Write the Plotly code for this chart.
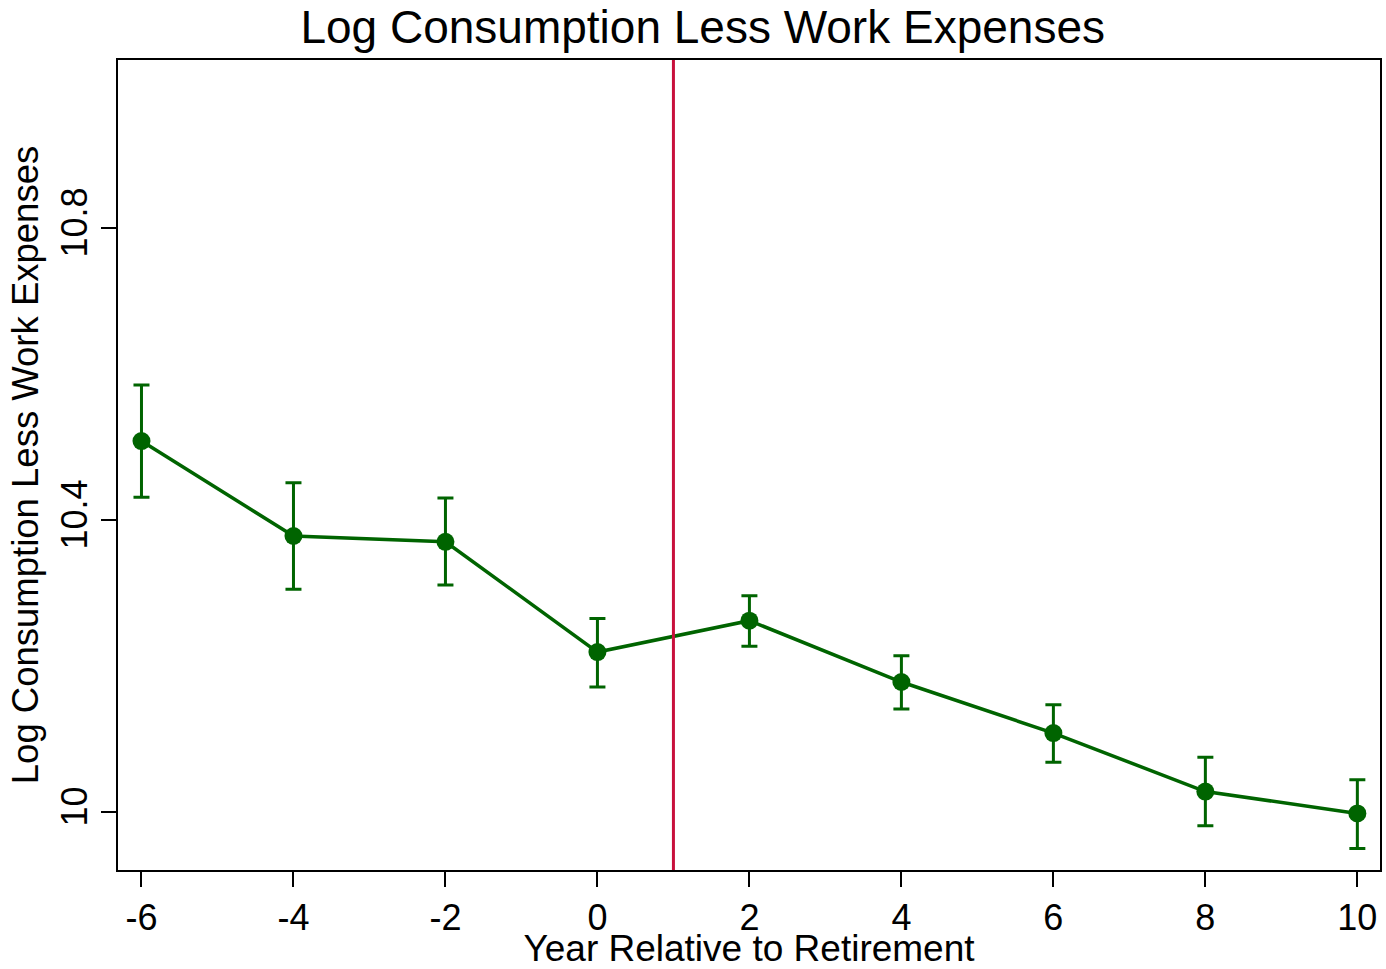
import plotly.graph_objects as go

# Event-study estimates: log consumption less work expenses by year relative to retirement
years = [-6, -4, -2, 0, 2, 4, 6, 8, 10]
coef = [10.508, 10.378, 10.370, 10.219, 10.262, 10.178, 10.108, 10.028, 9.998]
ci_low = [10.431, 10.305, 10.311, 10.171, 10.227, 10.141, 10.068, 9.981, 9.950]
ci_high = [10.585, 10.451, 10.430, 10.265, 10.296, 10.214, 10.147, 10.075, 10.044]

retirement_line = 1
x_ticks = [-6, -4, -2, 0, 2, 4, 6, 8, 10]
x_tick_labels = ["-6", "-4", "-2", "0", "2", "4", "6", "8", "10"]
y_ticks = [10, 10.4, 10.8]
y_tick_labels = ["10", "10.4", "10.8"]

GREEN = "#006400"
RED = "#C8103C"
FONT = "Liberation Sans, Arial, Helvetica, sans-serif"

err_plus = [h - c for h, c in zip(ci_high, coef)]
err_minus = [c - l for c, l in zip(coef, ci_low)]

fig = go.Figure()
fig.add_trace(go.Scatter(
    x=years, y=coef,
    mode="lines+markers",
    line=dict(color=GREEN, width=3.5),
    marker=dict(color=GREEN, size=18),
    error_y=dict(type="data", symmetric=False, array=err_plus, arrayminus=err_minus,
                 color=GREEN, thickness=3, width=8),
    showlegend=False,
))

fig.add_vline(x=retirement_line, line=dict(color=RED, width=3))

fig.update_layout(
    width=1386, height=969,
    margin=dict(l=118, r=4, t=60, b=99),
    paper_bgcolor="white", plot_bgcolor="white",
    font=dict(family=FONT, color="black"),
    title=dict(text="Log Consumption Less Work Expenses", x=0.507, xanchor="center",
               y=0.972, yanchor="middle", font=dict(size=46, family=FONT, color="black")),
)

fig.update_xaxes(
    range=[-6.309, 10.298],
    tickmode="array", tickvals=x_ticks, ticktext=x_tick_labels,
    ticks="outside", ticklen=15, tickwidth=2, tickcolor="black",
    tickfont=dict(size=36, family=FONT),
    showline=True, linecolor="black", linewidth=2, mirror=True,
    showgrid=False, zeroline=False,
    title=dict(text="Year Relative to Retirement", font=dict(size=37, family=FONT), standoff=1),
)
fig.update_yaxes(
    range=[9.9205, 11.030],
    tickmode="array", tickvals=y_ticks, ticktext=y_tick_labels,
    tickangle=-90,
    ticks="outside", ticklen=15, tickwidth=2, tickcolor="black",
    tickfont=dict(size=36, family=FONT),
    showline=True, linecolor="black", linewidth=2, mirror=True,
    showgrid=False, zeroline=False,
    title=dict(text="Log Consumption Less Work Expenses", font=dict(size=36.5, family=FONT), standoff=4),
)

fig.write_html("out.html")
